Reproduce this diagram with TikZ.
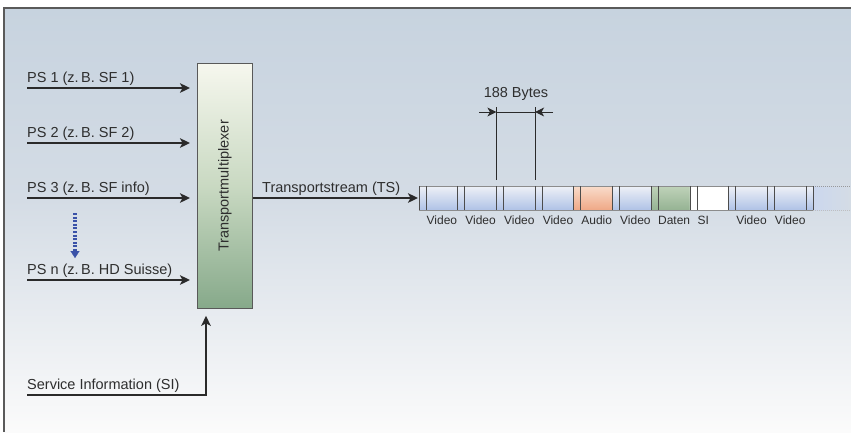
\documentclass[tikz,border=0pt]{standalone}
\usepackage{fontspec}
\setmainfont{Liberation Sans}
\usetikzlibrary{arrows.meta,calc}
\definecolor{txt}{HTML}{2E2E2E}
\definecolor{linec}{HTML}{2A2A2A}
\definecolor{framec}{HTML}{5A5A5A}
\definecolor{bgtop}{HTML}{C7D3DF}
\definecolor{bgmid}{HTML}{D4DCE5}
\definecolor{bgbot}{HTML}{FBFBFB}
\definecolor{muxtop}{HTML}{F6F7EE}
\definecolor{muxmid}{HTML}{C9D9C2}
\definecolor{muxbot}{HTML}{86A98A}
\definecolor{vidtop}{HTML}{EEF1F7}
\definecolor{vidbot}{HTML}{AFC2E6}
\definecolor{audtop}{HTML}{F9DCCB}
\definecolor{audbot}{HTML}{EFA886}
\definecolor{dattop}{HTML}{BFD2B9}
\definecolor{datbot}{HTML}{95B393}
\definecolor{dotblue}{HTML}{3A52A8}
\tikzset{
  lbl/.style={inner sep=0pt, text=txt, font=\fontsize{14.5}{17}\selectfont},
  plbl/.style={inner sep=0pt, text=txt, font=\fontsize{12}{14}\selectfont, anchor=base},
  arr/.style={draw=linec, line width=2pt, -{Stealth[length=10pt,width=9.5pt,inset=2.5pt]}},
  dimtip/.style={draw=linec, line width=1pt, -{Stealth[length=9pt,width=9pt,inset=2.5pt]}},
  dimline/.style={draw=linec, line width=1pt},
  sep/.style={draw=black!70, line width=0.8pt},
}
\begin{document}
\begin{tikzpicture}[x=1pt,y=-1pt]
\useasboundingbox (0,0) rectangle (851,432);
\fill[white] (0,0) rectangle (851,432);
% background
\shade[top color=bgtop, bottom color=bgmid] (4,8) rectangle (851,200);
\shade[top color=bgmid, bottom color=bgbot] (4,199.5) rectangle (851,432);
\draw[framec, line width=1.4pt] (4,432) -- (4,8) -- (851,8);

% multiplexer
\node[draw=black!65, line width=0.8pt, top color=muxtop, bottom color=muxbot, middle color=muxmid,
      minimum width=55pt, minimum height=245pt, inner sep=0pt, anchor=north west] (mux) at (197,63) {};
\node[lbl, rotate=90] (muxtxt) at (mux.center) {Transportmultiplexer};

% inputs
\coordinate (in1) at (27,88);
\coordinate (in2) at (27,143);
\coordinate (in3) at (27,198);
\coordinate (inn) at (27,280);
\coordinate (insi) at (27,395);
\node[lbl, anchor=base west] (l1) at (27,82) {PS 1 (z.\,B. SF 1)};
\node[lbl, anchor=base west] (l2) at (27,137) {PS 2 (z.\,B. SF 2)};
\node[lbl, anchor=base west] (l3) at (27,192) {PS 3 (z.\,B. SF info)};
\node[lbl, anchor=base west] (ln) at (27,274.5) {PS n (z.\,B. HD Suisse)};
\node[lbl, anchor=base west] (lsi) at (27,389) {Service Information (SI)};
\draw[arr, shorten >=7pt] (in1) -- (in1 -| mux.west);
\draw[arr, shorten >=7pt] (in2) -- (in2 -| mux.west);
\draw[arr, shorten >=7pt] (in3) -- (in3 -| mux.west);
\draw[arr, shorten >=7pt] (inn) -- (inn -| mux.west);
\draw[arr, shorten >=7pt] (insi) -| ([xshift=9pt]mux.south west);

% dotted blue arrow
\coordinate (dA) at (75,213);
\coordinate (dB) at (75,258);
\draw[dotblue, line width=3.2pt, dash pattern=on 2pt off 1.6pt] (dA) -- ([yshift=6pt]dB);
\draw[dotblue, -{Triangle[length=7pt,width=9pt]}, line width=0.1pt] ([yshift=7.5pt]dB) -- (dB);

% transport stream
\coordinate (s0) at (419,198);
\node[lbl, anchor=base west] (lts) at (262,192) {Transportstream (TS)};
\draw[arr, shorten >=1pt] (mux.east |- in3) -- (s0);

% packets
\def\pw{38.7}
\foreach \i/\ct/\cb in {0/vidtop/vidbot,1/vidtop/vidbot,2/vidtop/vidbot,3/vidtop/vidbot,4/audtop/audbot,5/vidtop/vidbot,6/dattop/datbot,7/white/white,8/vidtop/vidbot,9/vidtop/vidbot}{
  \pgfmathsetmacro{\xa}{419+\pw*\i}
  \pgfmathsetmacro{\xb}{419+\pw*(\i+1)}
  \shade[top color=\ct, bottom color=\cb] (\xa,186) rectangle (\xb,210);
}
\pgfmathsetmacro{\xl}{419+\pw*10}
\shade[top color=vidtop, bottom color=vidbot] (\xl,186) rectangle (\xl+7.3,210);
\shade[left color=vidbot!55!vidtop, right color=bgmid] (\xl+7.3,186) rectangle (851,210);
\draw[black!45, line width=0.6pt] (419,186) -- (\xl+7.3,186);
\draw[black!45, line width=0.6pt] (419,210) -- (\xl+7.3,210);
\draw[black!40, line width=0.6pt, dash pattern=on 1pt off 1pt] (\xl+7.3,186) -- (851,186);
\draw[black!25, line width=0.6pt, dash pattern=on 1pt off 1pt] (\xl+7.3,210) -- (851,210);
\foreach \i in {0,...,10}{
  \pgfmathsetmacro{\xa}{419+\pw*\i}
  \draw[sep] (\xa,186) -- (\xa,210);
  \draw[sep] (\xa+7,186) -- (\xa+7,210);
}
% packet labels
\foreach \i/\t [count=\k] in {0/Video,1/Video,2/Video,3/Video,4/Audio,5/Video,6/Daten,8/Video,9/Video}{
  \pgfmathsetmacro{\xc}{419+\pw*\i+22.9}
  \node[plbl] (pl\k) at (\xc,224) {\t};
}
\node[plbl, anchor=base west] (plsi) at (697.5,224) {SI};

% 188 bytes dimension
\coordinate (dl) at (496.4,107);
\coordinate (dr) at (535.1,107);
\draw[dimline] (dl) -- (496.4,179.5);
\draw[dimline] (dr) -- (535.1,179.5);
\coordinate (dl0) at (479,112);
\coordinate (dr0) at (553,112);
\draw[dimline] (dl0 -| dl) -- (dr0 -| dr);
\draw[dimtip] (dl0) -- (dl0 -| dl);
\draw[dimtip] (dr0) -- (dr0 -| dr);
\node[lbl, anchor=base] (byt) at (516,97) {188 Bytes};
\end{tikzpicture}
\end{document}
